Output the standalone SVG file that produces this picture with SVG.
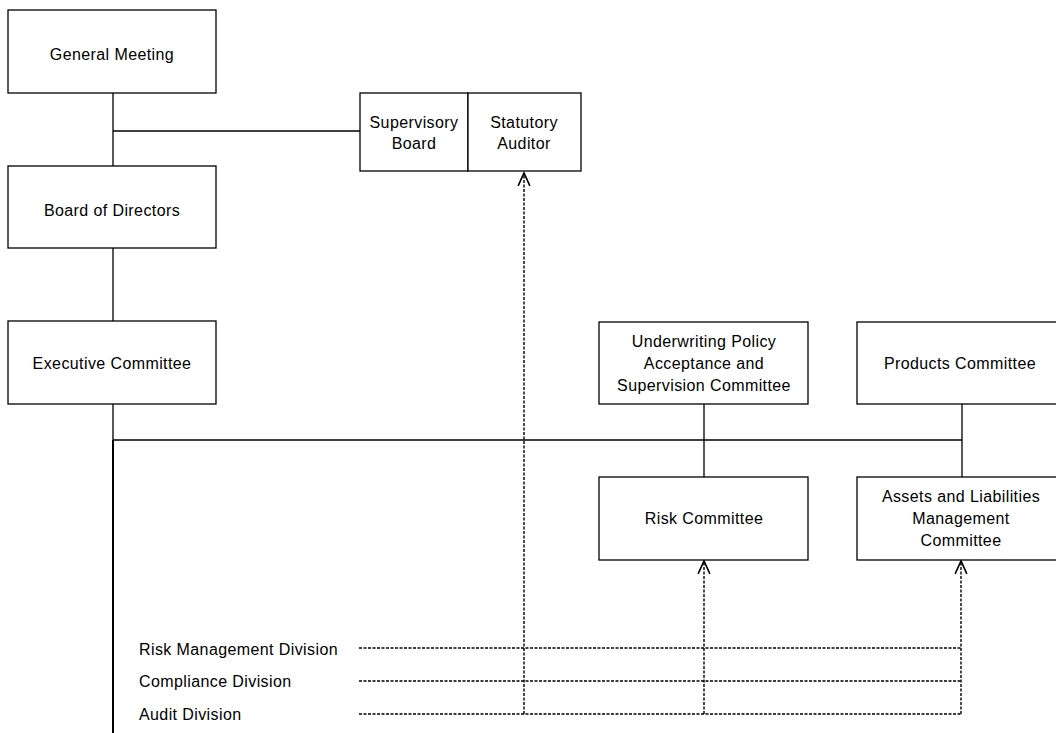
<svg xmlns="http://www.w3.org/2000/svg" width="1056" height="733" viewBox="0 0 1056 733">
<style>
.box{fill:#fff;stroke:#000;stroke-width:1.3}
.t{font-family:"Liberation Sans",Arial,sans-serif;font-size:16px;letter-spacing:0.4px;fill:#000;text-anchor:middle}
.tl{text-anchor:start}
.solid{fill:none;stroke:#000;stroke-width:1.3}
.thick{fill:none;stroke:#000;stroke-width:2}
.dash{fill:none;stroke:#000;stroke-width:1.4;stroke-dasharray:3 1.5}
</style>
<defs>
<marker id="arr" markerUnits="userSpaceOnUse" markerWidth="16" markerHeight="16" refX="0" refY="0" viewBox="-13 -7 15 14" orient="auto" overflow="visible">
<path d="M -12 -5.5 L 0 0 L -12 5.5" fill="none" stroke="#000" stroke-width="1.5"/>
</marker>
</defs>
<rect width="1056" height="733" fill="#fff"/>
<g id="connectors">
<path class="solid" d="M113 93 V166 M113 131 H360 M113 248 V321 M113 404 V440 M113 440 H962 M704 404 V477 M962 404 V477"/>
<path class="thick" d="M113 440 V733"/>
<path class="dash" d="M359 648 H961 M359 681 H961 M359 714 H961"/>
<path class="dash" d="M524 714 V173" marker-end="url(#arr)"/>
<path class="dash" d="M704 714 V561" marker-end="url(#arr)"/>
<path class="dash" d="M961 714 V561" marker-end="url(#arr)"/>
</g>
<g id="general-meeting">
<rect class="box" x="8" y="10" width="208" height="83"/>
<text class="t" x="112" y="60">General Meeting</text>
</g>
<g id="board-of-directors">
<rect class="box" x="8" y="166" width="208" height="82"/>
<text class="t" x="112" y="216">Board of Directors</text>
</g>
<g id="executive-committee">
<rect class="box" x="8" y="321" width="208" height="83"/>
<text class="t" x="112" y="369">Executive Committee</text>
</g>
<g id="supervisory-board">
<rect class="box" x="360" y="93" width="108" height="78"/>
<text class="t" x="414" y="128">Supervisory</text>
<text class="t" x="414" y="149">Board</text>
</g>
<g id="statutory-auditor">
<rect class="box" x="468" y="93" width="113" height="78"/>
<text class="t" x="524" y="128">Statutory</text>
<text class="t" x="524" y="149">Auditor</text>
</g>
<g id="underwriting-committee">
<rect class="box" x="599" y="322" width="209" height="82"/>
<text class="t" x="704" y="347">Underwriting Policy</text>
<text class="t" x="704" y="369">Acceptance and</text>
<text class="t" x="704" y="391">Supervision Committee</text>
</g>
<g id="products-committee">
<rect class="box" x="857" y="322" width="209" height="82"/>
<text class="t" x="960" y="369">Products Committee</text>
</g>
<g id="risk-committee">
<rect class="box" x="599" y="477" width="209" height="83"/>
<text class="t" x="704" y="524">Risk Committee</text>
</g>
<g id="alm-committee">
<rect class="box" x="857" y="477" width="209" height="83"/>
<text class="t" x="961" y="502">Assets and Liabilities</text>
<text class="t" x="961" y="524">Management</text>
<text class="t" x="961" y="546">Committee</text>
</g>
<g id="risk-management-division">
<text class="t tl" x="139" y="655">Risk Management Division</text>
</g>
<g id="compliance-division">
<text class="t tl" x="139" y="687">Compliance Division</text>
</g>
<g id="audit-division">
<text class="t tl" x="139" y="720">Audit Division</text>
</g>
</svg>
